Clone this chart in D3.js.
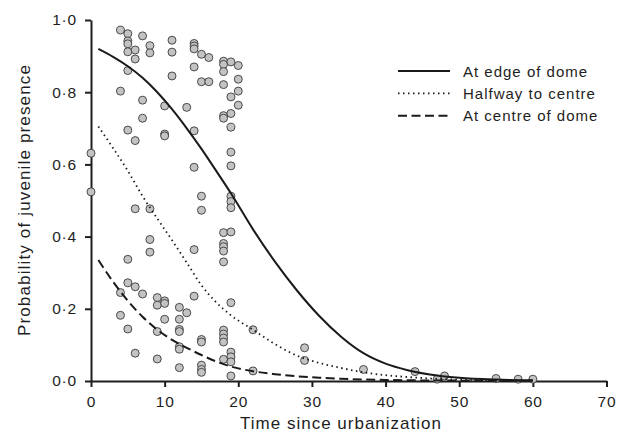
<!DOCTYPE html>
<html>
<head>
<meta charset="utf-8">
<script src="https://cdn.jsdelivr.net/npm/d3@7/dist/d3.min.js"></script>
<style>
  html, body { margin: 0; padding: 0; background: #fff; }
  svg { display: block; }
  text { font-family: "Liberation Sans", Arial, sans-serif; fill: #1e1e1e; }
</style>
</head>
<body>
<svg id="chart" width="624" height="438"></svg>
<script>
// ---- data ----
const xTicks = [0, 10, 20, 30, 40, 50, 60, 70];
const yTicks = [0, 0.2, 0.4, 0.6, 0.8, 1.0];

// observed sites: time since urbanization / juvenile presence probability
const obsTime = [
  0, 0,
  4, 4, 4, 4,
  5, 5, 5, 5, 5, 5, 5, 5, 5,
  6, 6, 6, 6, 6, 6,
  7, 7, 7, 7,
  8, 8, 8, 8, 8,
  9, 9, 9, 9,
  10, 10, 10, 10, 10, 10,
  11, 11, 11,
  12, 12, 12, 12, 12, 12, 12,
  13, 13,
  14, 14, 14, 14, 14, 14, 14, 14,
  15, 15, 15, 15, 15, 15, 15, 15, 15,
  16, 16,
  18, 18, 18, 18, 18, 18, 18, 18, 18, 18, 18, 18, 18, 18, 18, 18,
  19, 19, 19, 19, 19, 19, 19, 19, 19, 19, 19, 19, 19, 19, 19,
  20, 20, 20, 20,
  22, 22,
  29, 29,
  37, 44, 47, 48, 55, 58, 60
];
const obsProb = [
  0.631, 0.524,
  0.972, 0.803, 0.245, 0.182,
  0.962, 0.942, 0.934, 0.912, 0.860, 0.695, 0.337, 0.272, 0.144,
  0.917, 0.892, 0.666, 0.477, 0.261, 0.077,
  0.956, 0.778, 0.728, 0.241,
  0.929, 0.909, 0.477, 0.392, 0.357,
  0.231, 0.210, 0.137, 0.061,
  0.762, 0.684, 0.679, 0.222, 0.215, 0.171,
  0.944, 0.911, 0.845,
  0.204, 0.171, 0.143, 0.137, 0.095, 0.088, 0.037,
  0.758, 0.189,
  0.935, 0.928, 0.920, 0.870, 0.693, 0.592, 0.364, 0.235,
  0.905, 0.829, 0.512, 0.473, 0.115, 0.108, 0.044, 0.032, 0.024,
  0.896, 0.829,
  0.886, 0.877, 0.857, 0.821, 0.735, 0.728, 0.411, 0.381, 0.372, 0.360, 0.330, 0.141, 0.130, 0.119, 0.108, 0.060,
  0.884, 0.787, 0.741, 0.703, 0.634, 0.596, 0.512, 0.497, 0.480, 0.413, 0.217, 0.080, 0.067, 0.053, 0.014,
  0.874, 0.836, 0.803, 0.764,
  0.142, 0.028,
  0.092, 0.057,
  0.032, 0.026, 0.005, 0.014, 0.007, 0.005, 0.005
];

// fitted curves
const curveTime = [1, 3, 5, 7, 9, 11, 13, 15, 17, 19, 22, 25, 28, 31, 34, 37, 40, 43, 46, 50, 55, 60];
const edgeProb = [0.920, 0.898, 0.872, 0.840, 0.800, 0.753, 0.700, 0.643, 0.582, 0.520, 0.420, 0.330, 0.250, 0.180, 0.122, 0.077, 0.048, 0.030, 0.018, 0.009, 0.004, 0.002];
const halfProb = [0.705, 0.645, 0.582, 0.512, 0.450, 0.390, 0.328, 0.265, 0.218, 0.182, 0.142, 0.102, 0.070, 0.050, 0.036, 0.024, 0.016, 0.011, 0.007, 0.004, 0.002, 0.001];
const centreProb = [0.335, 0.275, 0.222, 0.178, 0.142, 0.114, 0.092, 0.072, 0.054, 0.040, 0.027, 0.019, 0.013, 0.009, 0.006, 0.004, 0.003, 0.002, 0.0015, 0.001, 0.0007, 0.0005];

const seriesNames = ["At edge of dome", "Halfway to centre", "At centre of dome"];
const seriesDash = [null, "1.5,3.5", "9,4.5"];
const seriesWidth = [2, 1.8, 2];

// ---- drawing ----
const svg = d3.select("#chart");
const x = d3.scaleLinear().domain([0, 70]).range([91, 606.5]);
const y = d3.scaleLinear().domain([0, 1]).range([381, 20]);
const fmt = v => d3.format(".1f")(v).replace(".", "\u00B7");

// x axis
const gx = svg.append("g").attr("transform", "translate(0,381)")
  .call(d3.axisBottom(x).tickValues(xTicks).tickSize(6).tickPadding(9).tickSizeOuter(0));
// y axis
const gy = svg.append("g").attr("transform", "translate(91,0)")
  .call(d3.axisLeft(y).tickValues(yTicks).tickFormat(fmt).tickSize(6).tickPadding(8).tickSizeOuter(0));

[gx, gy].forEach(g => {
  g.select(".domain").attr("stroke", "#1e1e1e").attr("stroke-width", 2);
  g.selectAll(".tick line").attr("stroke", "#1e1e1e").attr("stroke-width", 2);
  g.selectAll(".tick text").attr("font-size", 15.5).attr("letter-spacing", 0.8)
    .attr("fill", "#1e1e1e").attr("font-family", "Liberation Sans, Arial, sans-serif");
});

// axis titles
svg.append("text").attr("x", 341).attr("y", 429).attr("text-anchor", "middle")
  .attr("font-size", 17).attr("letter-spacing", 1).text("Time since urbanization");
svg.append("text").attr("transform", "translate(30,200) rotate(-90)").attr("text-anchor", "middle")
  .attr("font-size", 17).attr("letter-spacing", 1.15).text("Probability of juvenile presence");

// points
const pts = obsTime.map((t, i) => ({ t, p: obsProb[i] }));
svg.append("g").selectAll("circle").data(pts).join("circle")
  .attr("cx", d => x(d.t)).attr("cy", d => y(d.p)).attr("r", 4)
  .attr("fill", "#c3c3c3").attr("stroke", "#3a3a3a").attr("stroke-width", 0.9);

// curves
const line = d3.line().x(d => x(d[0])).y(d => y(d[1])).curve(d3.curveMonotoneX);
const curves = [edgeProb, halfProb, centreProb];
curves.forEach((vals, k) => {
  svg.append("path")
    .datum(curveTime.map((t, i) => [t, vals[i]]))
    .attr("d", line).attr("fill", "none")
    .attr("stroke", "#1a1a1a").attr("stroke-width", seriesWidth[k])
    .attr("stroke-dasharray", seriesDash[k]);
});

// legend
const lg = svg.append("g");
seriesNames.forEach((name, k) => {
  const yy = 71 + k * 22.4;
  lg.append("line").attr("x1", 398).attr("x2", 450).attr("y1", yy).attr("y2", yy)
    .attr("stroke", "#1a1a1a").attr("stroke-width", seriesWidth[k])
    .attr("stroke-dasharray", seriesDash[k]);
  lg.append("text").attr("x", 463).attr("y", yy + 5.5)
    .attr("font-size", 15).attr("letter-spacing", 1).text(name);
});
</script>
</body>
</html>
